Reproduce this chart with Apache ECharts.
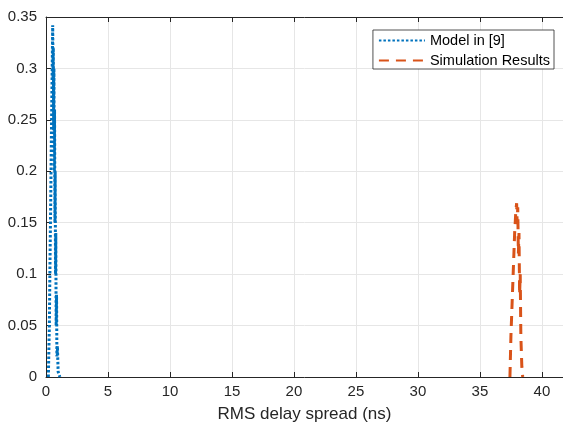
<!DOCTYPE html>
<html>
<head>
    <meta charset="utf-8">
    <title>RMS delay spread</title>
    <script src="https://cdn.jsdelivr.net/npm/echarts@6/dist/echarts.min.js"></script>
</head>
<body style="margin:0">
    <div id="main" style="width: 563px;height:425px;"></div>
    <script type="text/javascript">
        // Model in [9] (x: ns, y: pdf)
        var modelX = [0.19, 0.27, 0.33, 0.38, 0.44, 0.5, 0.54, 0.57, 0.59, 0.62, 0.64, 0.67, 0.69, 0.72, 0.74, 0.77, 0.79, 0.82, 0.85, 0.88, 0.92, 0.98, 1.12];
        var modelY = [0, 0.05, 0.12, 0.17, 0.24, 0.3, 0.342, 0.29, 0.32, 0.24, 0.3, 0.2, 0.26, 0.15, 0.2, 0.1, 0.14, 0.05, 0.08, 0.02, 0.03, 0.005, 0];
        // Simulation Results
        var simX = [37.42, 37.5, 37.65, 37.8, 37.9, 37.96, 38.0, 38.05, 38.1, 38.15, 38.2, 38.25, 38.3, 38.38, 38.45];
        var simY = [0, 0.04, 0.09, 0.14, 0.162, 0.169, 0.15, 0.165, 0.12, 0.14, 0.08, 0.1, 0.04, 0.01, 0];
        var xTicks = [0, 5, 10, 15, 20, 25, 30, 35, 40];

        function pairs(xs, ys) {
            var out = [];
            for (var i = 0; i < xs.length; i++) out.push([xs[i], ys[i]]);
            return out;
        }

        var axisColor = '#262626';
        var font = 'Liberation Sans, Arial, sans-serif';

        var myChart = echarts.init(document.getElementById('main'));
        var option = {
            animation: false,
            backgroundColor: '#fff',
            grid: { left: 46, top: 17, right: 0, bottom: 48, outerBoundsMode: 'none' },
            legend: {
                right: 9, top: 30,
                orient: 'vertical',
                backgroundColor: '#fff',
                borderColor: axisColor,
                borderWidth: 0.8,
                borderRadius: 0,
                padding: [3, 4, 1, 5],
                itemGap: 5,
                itemWidth: 46,
                itemHeight: 14,
                itemStyle: { opacity: 0 },
                textStyle: { fontFamily: font, fontSize: 14.5, color: '#000' },
                data: ['Model in [9]', 'Simulation Results']
            },
            xAxis: [{
                type: 'value',
                min: 0, max: 41.7, interval: 5,
                name: 'RMS delay spread (ns)',
                nameLocation: 'middle',
                nameGap: 29,
                nameTextStyle: { fontFamily: font, fontSize: 17, color: axisColor },
                axisLine: { lineStyle: { color: axisColor, width: 1 } },
                axisTick: { inside: true, length: 5, lineStyle: { color: axisColor } },
                axisLabel: {
                    fontFamily: font, fontSize: 15, color: axisColor, margin: 7,
                    formatter: function (v) { return xTicks.indexOf(v) >= 0 ? String(v) : ''; }
                },
                splitLine: { show: true, lineStyle: { color: '#e6e6e6' } }
            }, {
                type: 'value',
                position: 'top',
                min: 0, max: 41.7, interval: 5,
                axisLine: { show: true, lineStyle: { color: axisColor, width: 1 } },
                axisTick: { show: true, inside: true, length: 5, lineStyle: { color: axisColor } },
                axisLabel: { show: false },
                splitLine: { show: false }
            }],
            yAxis: {
                type: 'value',
                min: 0, max: 0.35, interval: 0.05,
                axisLine: { show: true, lineStyle: { color: axisColor, width: 1 } },
                axisTick: { show: true, inside: true, length: 5, lineStyle: { color: axisColor } },
                axisLabel: {
                    fontFamily: font, fontSize: 15, color: axisColor, margin: 9,
                    formatter: function (v) { return v === 0 ? '0' : String(+v.toFixed(2)); }
                },
                splitLine: { show: true, lineStyle: { color: '#e6e6e6' } }
            },
            series: [{
                name: 'Model in [9]',
                type: 'line',
                symbol: 'none',
                color: '#0072BD',
                lineStyle: { width: 3, type: [2.5, 2] },
                data: pairs(modelX, modelY)
            }, {
                name: 'Simulation Results',
                type: 'line',
                symbol: 'none',
                color: '#D95319',
                lineStyle: { width: 3, type: [10, 7] },
                data: pairs(simX, simY)
            }]
        };
        myChart.setOption(option);
    </script>
</body>
</html>
